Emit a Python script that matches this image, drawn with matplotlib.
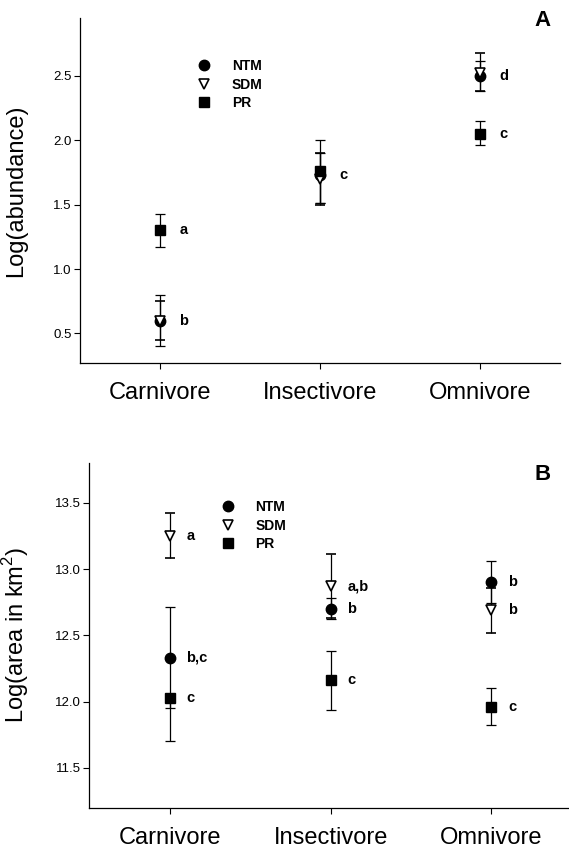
"""
Mean log abundance and log range area per diet guild (NTM, SDM, PR)
"""
import numpy as np
import matplotlib as mpl
import matplotlib.pyplot as plt
from matplotlib.lines import Line2D

mpl.rcParams['font.family'] = ['Liberation Sans', 'DejaVu Sans']
mpl.rcParams['mathtext.fontset'] = 'custom'
mpl.rcParams['mathtext.rm'] = 'Liberation Sans'
mpl.rcParams['axes.linewidth'] = 0.9

guilds = ['Carnivore', 'Insectivore', 'Omnivore']
groups = ['NTM', 'SDM', 'PR']

# Panel A: log(abundance); errors given as [lower], [upper]
abund_mean = {'NTM': [0.60, 1.73, 2.50],
              'SDM': [0.60, 1.70, 2.52],
              'PR': [1.30, 1.76, 2.05]}
abund_err = {'NTM': [[0.20, 0.22, 0.12], [0.20, 0.17, 0.12]],
             'SDM': [[0.15, 0.20, 0.14], [0.15, 0.20, 0.16]],
             'PR': [[0.13, 0.25, 0.09], [0.13, 0.24, 0.10]]}
abund_letters = {'NTM': ['b', 'c', 'd'],
                 'SDM': ['', '', ''],
                 'PR': ['a', '', 'c']}

# Panel B: log(area in km2)
area_mean = {'NTM': [12.33, 12.70, 12.90],
             'SDM': [13.25, 12.87, 12.69],
             'PR': [12.03, 12.16, 11.96]}
area_err = {'NTM': [[0.63, 0.08, 0.16], [0.38, 0.08, 0.16]],
            'SDM': [[0.17, 0.24, 0.17], [0.17, 0.24, 0.17]],
            'PR': [[0.08, 0.22, 0.14], [0.02, 0.22, 0.14]]}
area_letters = {'NTM': ['b,c', 'b', 'b'],
                'SDM': ['a', 'a,b', 'b'],
                'PR': ['c', 'c', 'c']}

styles = {'NTM': dict(marker='o', mfc='k', mec='k', ms=7.5),
          'SDM': dict(marker='v', mfc='w', mec='k', ms=7.5, mew=1.2),
          'PR': dict(marker='s', mfc='k', mec='k', ms=6.5)}

fig = plt.figure(figsize=(5.69, 8.51), dpi=100)
ax_a = fig.add_axes([0.1406, 0.5734, 0.8436, 0.4054])
ax_b = fig.add_axes([0.157, 0.0509, 0.848, 0.4051])


def draw_panel(ax, means, errs, letters, ylim, yticks, ylabel, dx, leg_xy,
               label_x):
    x = np.arange(1, len(guilds) + 1)
    for g in groups:
        ax.errorbar(x, means[g], yerr=np.array(errs[g]), ls='none',
                    color='k', elinewidth=0.9, capsize=3.6, capthick=0.9,
                    **styles[g])
        for xi, yi, txt in zip(x, means[g], letters[g]):
            if txt:
                ax.annotate(txt, xy=(xi, yi), xytext=(dx, 0),
                            textcoords='offset points', ha='left',
                            va='center', fontsize=10.5, fontweight='bold')

    # Legend with markers only, no error bars
    handles = [Line2D([], [], ls='none', color='k', **styles[g])
               for g in groups]
    ax.legend(handles, groups, loc='upper left', bbox_to_anchor=leg_xy,
              frameon=False, borderpad=0, borderaxespad=0, handlelength=1,
              handletextpad=1.5, labelspacing=0.32,
              prop=dict(size=10, weight='bold'))

    ax.set_xlim(0.5, 3.5)
    ax.set_ylim(*ylim)
    ax.set_xticks(x)
    ax.set_xticklabels(guilds, fontsize=17)
    ax.set_yticks(yticks)
    ax.set_yticklabels([f"{t:.1f}" for t in yticks], fontsize=9.5)
    ax.set_ylabel(ylabel, fontsize=17)
    ax.yaxis.set_label_coords(label_x, 0.5)
    ax.tick_params(axis='x', direction='out', length=4, width=0.8, pad=10)
    ax.tick_params(axis='y', direction='out', length=4, width=0.8, pad=2)
    for side in ['top', 'right']:
        ax.spines[side].set_visible(False)


draw_panel(ax_a, abund_mean, abund_err, abund_letters, (0.27, 2.95),
           [0.5, 1.0, 1.5, 2.0, 2.5], 'Log(abundance)', 14,
           (0.244, 0.881), -0.11)
draw_panel(ax_b, area_mean, area_err, area_letters, (11.2, 13.8),
           [11.5, 12.0, 12.5, 13.0, 13.5], r'Log(area in km$^2$)', 12,
           (0.272, 0.892), -0.12)

fig.text(0.954, 0.976, 'A', fontsize=16, fontweight='bold',
         ha='center', va='center')
fig.text(0.954, 0.442, 'B', fontsize=16, fontweight='bold',
         ha='center', va='center')

fig.savefig('out.png', dpi=100)
